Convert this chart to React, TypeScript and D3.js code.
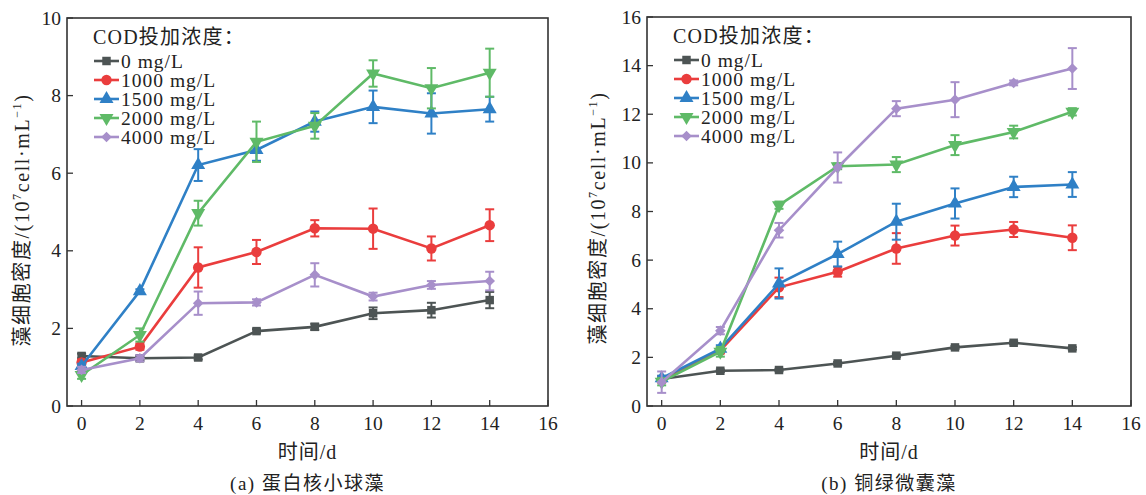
import React from 'react';
import * as d3 from 'd3';

// sampling days
const days = [0, 2, 4, 6, 8, 10, 12, 14];

const seriesNames = ['0 mg/L', '1000 mg/L', '1500 mg/L', '2000 mg/L', '4000 mg/L'];
const seriesColors = ['#4d5454', '#ea3d3d', '#2f80c6', '#5fba67', '#a78fca'];
const seriesSymbols = ['square', 'circle', 'triangle', 'triangleDown', 'diamond'];

// (a) Chlorella pyrenoidosa
const aMean0 = [1.29, 1.23, 1.25, 1.93, 2.04, 2.39, 2.47, 2.73];
const aErr0 = [0.06, 0.06, 0.05, 0.05, 0.08, 0.15, 0.19, 0.21];
const aMean1000 = [1.12, 1.53, 3.57, 3.97, 4.58, 4.57, 4.06, 4.66];
const aErr1000 = [0.08, 0.08, 0.52, 0.31, 0.21, 0.52, 0.31, 0.41];
const aMean1500 = [1.03, 2.96, 6.21, 6.6, 7.33, 7.71, 7.54, 7.65];
const aErr1500 = [0.06, 0.05, 0.41, 0.28, 0.26, 0.42, 0.52, 0.32];
const aMean2000 = [0.8, 1.83, 4.97, 6.81, 7.22, 8.57, 8.19, 8.59];
const aErr2000 = [0.1, 0.17, 0.32, 0.52, 0.33, 0.34, 0.52, 0.62];
const aMean4000 = [0.93, 1.23, 2.65, 2.67, 3.38, 2.82, 3.12, 3.22];
const aErr4000 = [0.08, 0.08, 0.3, 0.08, 0.3, 0.1, 0.1, 0.24];

// (b) Microcystis aeruginosa
const bMean0 = [1.11, 1.45, 1.48, 1.75, 2.07, 2.41, 2.6, 2.37];
const bErr0 = [0.05, 0.05, 0.05, 0.06, 0.06, 0.06, 0.06, 0.05];
const bMean1000 = [1.07, 2.28, 4.88, 5.52, 6.48, 7.01, 7.26, 6.92];
const bErr1000 = [0.1, 0.12, 0.4, 0.2, 0.63, 0.41, 0.31, 0.51];
const bMean1500 = [1.14, 2.36, 5.04, 6.25, 7.58, 8.33, 9.01, 9.11];
const bErr1500 = [0.1, 0.14, 0.62, 0.51, 0.74, 0.62, 0.42, 0.51];
const bMean2000 = [1.0, 2.23, 8.26, 9.86, 9.93, 10.73, 11.27, 12.1];
const bErr2000 = [0.15, 0.2, 0.15, 0.12, 0.31, 0.41, 0.26, 0.15];
const bMean4000 = [0.98, 3.1, 7.23, 9.81, 12.23, 12.6, 13.29, 13.88];
const bErr4000 = [0.44, 0.15, 0.3, 0.62, 0.31, 0.72, 0.1, 0.84];

const xTicks = [0, 2, 4, 6, 8, 10, 12, 14, 16];
const aYTicks = [0, 2, 4, 6, 8, 10];
const bYTicks = [0, 2, 4, 6, 8, 10, 12, 14, 16];

const legendTitle = 'COD投加浓度：';
const xTitle = '时间/d';

const NUM_FONT = '"Liberation Serif", "DejaVu Serif", serif';
const CJK_FONT = '"Liberation Serif", "Noto Sans CJK SC", serif';

const symbolTypes: Record<string, d3.SymbolType> = {
  square: d3.symbolSquare,
  circle: d3.symbolCircle,
  triangle: d3.symbolTriangle,
  triangleDown: d3.symbolTriangle,
  diamond: d3.symbolSquare,
};
const symbolSizes: Record<string, number> = {
  square: 72, circle: 85, triangle: 85, triangleDown: 85, diamond: 56,
};
const symbolRot: Record<string, number> = {
  square: 0, circle: 0, triangle: 0, triangleDown: 180, diamond: 45,
};

function Marker({ kind, x, y, color }: { kind: string; x: number; y: number; color: string }) {
  const path = d3.symbol(symbolTypes[kind], symbolSizes[kind])() || '';
  return (
    <path d={path} fill={color} transform={`translate(${x},${y}) rotate(${symbolRot[kind]})`} />
  );
}

type PanelProps = {
  left: number; right: number; top: number; bottom: number;
  yMax: number; yTicks: number[];
  means: number[][]; errs: number[][];
  caption: string; yLabelX: number; yLabelY: number;
};

function Panel(p: PanelProps) {
  const x = d3.scaleLinear().domain([-0.5, 16]).range([p.left, p.right]);
  const y = d3.scaleLinear().domain([0, p.yMax]).range([p.bottom, p.top]);
  const line = d3.line<number>().x((_, i) => x(days[i])).y(d => y(d));
  const cx = (p.left + p.right) / 2;
  const legX = p.left + 27;
  const legY = p.top + 20;
  const rowH = 19;
  return (
    <g>
      {/* frame */}
      <rect x={p.left} y={p.top} width={p.right - p.left} height={p.bottom - p.top}
        fill="none" stroke="#333" strokeWidth={1.6} />
      {xTicks.map(t => (
        <g key={'x' + t}>
          <line x1={x(t)} x2={x(t)} y1={p.bottom} y2={p.bottom - 6} stroke="#333" strokeWidth={1.3} />
          <text x={x(t)} y={p.bottom + 24} textAnchor="middle" fontSize={19.5} fontFamily={NUM_FONT} fill="#222">{t}</text>
        </g>
      ))}
      {p.yTicks.map(t => (
        <g key={'y' + t}>
          <line x1={p.left} x2={p.left + 6} y1={y(t)} y2={y(t)} stroke="#333" strokeWidth={1.3} />
          <text x={p.left - 6} y={y(t) + 6.5} textAnchor="end" fontSize={19.5} fontFamily={NUM_FONT} fill="#222">{t}</text>
        </g>
      ))}
      <text x={cx} y={p.bottom + 53} textAnchor="middle" fontSize={20} letterSpacing={1} fontFamily={CJK_FONT} fill="#222">{xTitle}</text>
      <text x={cx} y={p.bottom + 84} textAnchor="middle" fontSize={19} letterSpacing={1.5} fontFamily={CJK_FONT} fill="#222">{p.caption}</text>
      <text transform={`translate(${p.yLabelX},${p.yLabelY}) rotate(-90)`} textAnchor="middle"
        fontSize={20} letterSpacing={1.6} fontFamily={CJK_FONT} fill="#222">
        藻细胞密度/(10<tspan fontSize={12} dy={-8}>7</tspan><tspan dy={8}>cell·mL</tspan>
        <tspan fontSize={12} dy={-8}>−1</tspan><tspan dy={8}>)</tspan>
      </text>

      {/* series */}
      {p.means.map((m, si) => {
        const c = seriesColors[si];
        return (
          <g key={'s' + si}>
            {m.map((v, i) => {
              const e = p.errs[si][i];
              const px = x(days[i]);
              return (
                <g key={i} stroke={c} strokeWidth={2}>
                  <line x1={px} x2={px} y1={y(v - e)} y2={y(v + e)} />
                  <line x1={px - 4.5} x2={px + 4.5} y1={y(v - e)} y2={y(v - e)} />
                  <line x1={px - 4.5} x2={px + 4.5} y1={y(v + e)} y2={y(v + e)} />
                </g>
              );
            })}
            <path d={line(m) || ''} fill="none" stroke={c} strokeWidth={2.6} />
            {m.map((v, i) => (
              <Marker key={'m' + i} kind={seriesSymbols[si]} x={x(days[i])} y={y(v)} color={c} />
            ))}
          </g>
        );
      })}

      {/* legend */}
      <text x={legX - 1} y={legY + 6} fontSize={20} letterSpacing={1.2} fontFamily={CJK_FONT} fill="#222">{legendTitle}</text>
      {seriesNames.map((n, i) => {
        const ry = legY + 23 + i * rowH;
        return (
          <g key={'l' + i}>
            <line x1={legX} x2={legX + 25} y1={ry} y2={ry} stroke={seriesColors[i]} strokeWidth={2.6} />
            <Marker kind={seriesSymbols[i]} x={legX + 12.5} y={ry} color={seriesColors[i]} />
            <text x={legX + 27} y={ry + 6.5} fontSize={19.5} letterSpacing={1} fontFamily={NUM_FONT} fill="#222">{n}</text>
          </g>
        );
      })}
    </g>
  );
}

export default function App() {
  return (
    <svg width={1146} height={495} style={{ display: 'block', position: 'absolute', left: 0, top: 0, background: '#fff' }}>
      <rect width={1146} height={495} fill="#fff" />
      <Panel left={67} right={548} top={18} bottom={406} yMax={10} yTicks={aYTicks}
        means={[aMean0, aMean1000, aMean1500, aMean2000, aMean4000]}
        errs={[aErr0, aErr1000, aErr1500, aErr2000, aErr4000]}
        caption="(a) 蛋白核小球藻" yLabelX={29} yLabelY={220} />
      <Panel left={647} right={1131} top={17} bottom={406} yMax={16} yTicks={bYTicks}
        means={[bMean0, bMean1000, bMean1500, bMean2000, bMean4000]}
        errs={[bErr0, bErr1000, bErr1500, bErr2000, bErr4000]}
        caption="(b) 铜绿微囊藻" yLabelX={605} yLabelY={218} />
    </svg>
  );
}
